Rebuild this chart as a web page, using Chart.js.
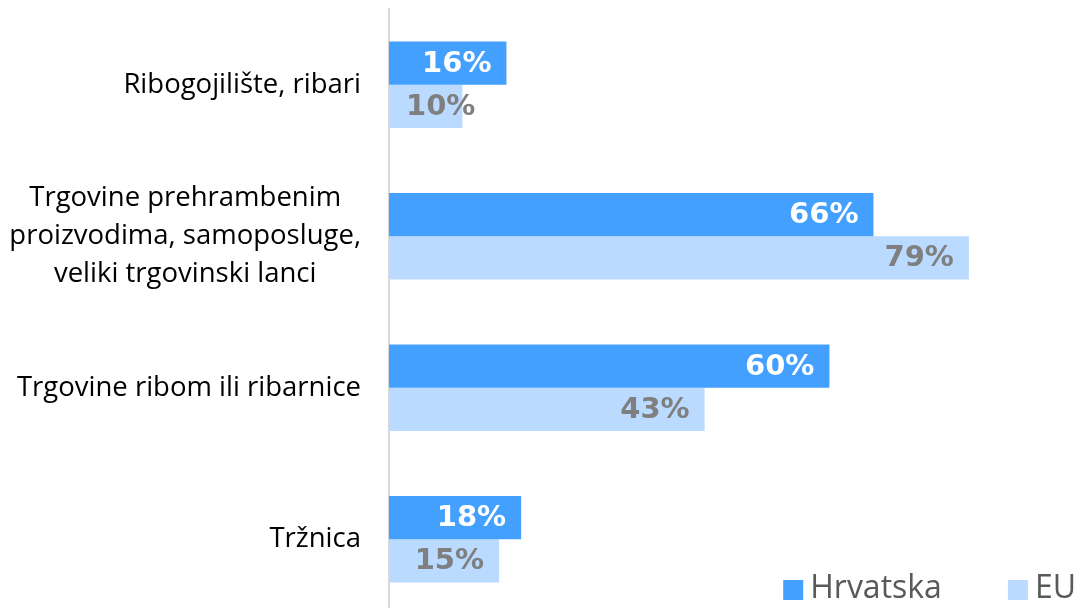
<!DOCTYPE html>
<html>
<head>
<meta charset="utf-8">
<script src="https://cdn.jsdelivr.net/npm/chart.js@4.4.0/dist/chart.umd.min.js"></script>
<style>
  html, body { margin: 0; padding: 0; background: #fff; overflow: hidden; }
  #wrap { width: 1079px; height: 616px; position: relative; }
</style>
</head>
<body>
<div id="wrap"><canvas id="chart"></canvas></div>
<script>
const categories = [
  "Ribogojilište, ribari",
  ["Trgovine prehrambenim", "proizvodima, samoposluge,", "veliki trgovinski lanci"],
  "Trgovine ribom ili ribarnice",
  "Tržnica",
];
const hrvatska = [16, 66, 60, 18];
const eu = [10, 79, 43, 15];

const FONT = "'Open Sans', sans-serif";

// category labels: block right-aligned to the axis, lines centred inside the block
const categoryLabels = {
  id: "categoryLabels",
  afterDraw(chart) {
    const ctx = chart.ctx;
    const scale = chart.scales.y;
    const right = scale.right - 28;
    const lh = 38;
    ctx.save();
    ctx.font = "27.5px " + FONT;
    ctx.fillStyle = "#000000";
    ctx.textAlign = "center";
    ctx.textBaseline = "middle";
    chart.data.labels.forEach((lab, i) => {
      const lines = Array.isArray(lab) ? lab : [lab];
      const blockW = Math.max(...lines.map((l) => ctx.measureText(l).width));
      const cx = right - blockW / 2;
      const cy = scale.getPixelForValue(i);
      lines.forEach((l, k) => {
        ctx.fillText(l, cx, cy + (k - (lines.length - 1) / 2) * lh);
      });
    });
    ctx.restore();
  },
};

// value labels: inside the bar end, never further left than the axis
const valueLabels = {
  id: "valueLabels",
  afterDatasetsDraw(chart) {
    const ctx = chart.ctx;
    const left = chart.chartArea.left;
    ctx.save();
    ctx.font = "bold 29px 'DejaVu Sans', sans-serif";
    ctx.textBaseline = "middle";
    ctx.textAlign = "left";
    chart.data.datasets.forEach((ds, i) => {
      const meta = chart.getDatasetMeta(i);
      meta.data.forEach((bar, j) => {
        const txt = ds.data[j] + "%";
        const w = ctx.measureText(txt).width;
        let x = bar.x - 15 - w;
        if (x < left + 17) x = left + 17;
        ctx.fillStyle = ds.labelColor;
        ctx.fillText(txt, x, bar.y + 1);
      });
    });
    ctx.restore();
  },
};

// legend drawn in the lower right corner, over the plot
const cornerLegend = {
  id: "cornerLegend",
  afterDraw(chart) {
    const ctx = chart.ctx;
    ctx.save();
    ctx.font = "32px " + FONT;
    ctx.textBaseline = "middle";
    ctx.textAlign = "left";
    const y = 589;
    let x = chart.width - 3;
    const items = chart.data.datasets.slice().reverse();
    items.forEach((ds) => {
      const w = ctx.measureText(ds.label).width;
      x -= w;
      ctx.fillStyle = "#595959";
      ctx.fillText(ds.label, x, y);
      x -= 7 + 20;
      ctx.fillStyle = ds.backgroundColor;
      ctx.fillRect(x, y - 9, 20, 20);
      x -= 66;
    });
    ctx.restore();
  },
};

new Chart(document.getElementById("chart"), {
  type: "bar",
  data: {
    labels: categories,
    datasets: [
      {
        label: "Hrvatska",
        data: hrvatska,
        backgroundColor: "#44a0ff",
        labelColor: "#ffffff",
        categoryPercentage: 0.57,
        barPercentage: 1.0,
      },
      {
        label: "EU",
        data: eu,
        backgroundColor: "#bbdaff",
        labelColor: "#7f7f7f",
        categoryPercentage: 0.57,
        barPercentage: 1.0,
      },
    ],
  },
  options: {
    indexAxis: "y",
    responsive: true,
    maintainAspectRatio: false,
    animation: false,
    layout: { padding: { top: 9, bottom: 1, right: 0, left: 0 } },
    plugins: {
      legend: { display: false },
      tooltip: { enabled: false },
    },
    scales: {
      x: {
        display: false,
        min: 0,
        max: 94,
      },
      y: {
        grid: { display: false, drawTicks: false },
        border: { display: true, color: "#d9d9d9", width: 2 },
        ticks: { display: false },
        afterFit(scale) {
          scale.width = 389;
          scale.paddingTop = 0;
          scale.paddingBottom = 0;
        },
      },
    },
  },
  plugins: [valueLabels, categoryLabels, cornerLegend],
});
</script>
</body>
</html>
